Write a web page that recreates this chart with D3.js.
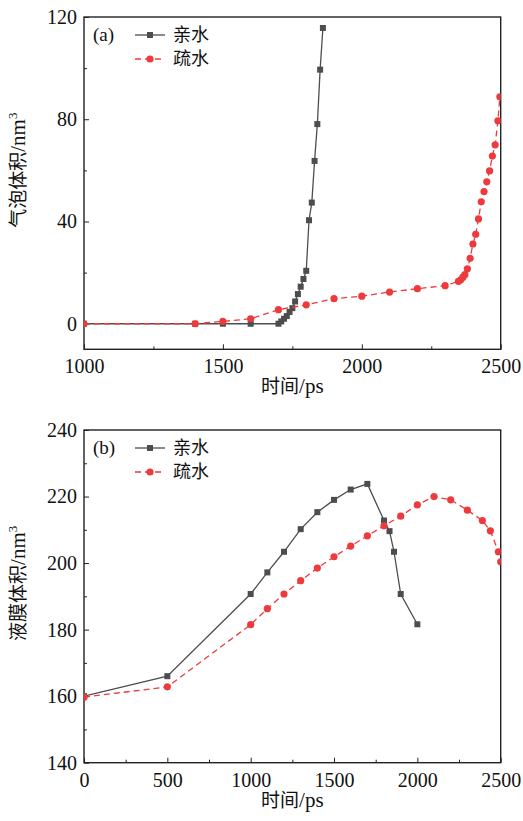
<!DOCTYPE html>
<html><head><meta charset="utf-8">
<script src="https://cdn.jsdelivr.net/npm/d3@7"></script>
<style>body{margin:0;background:#fff}</style>
</head><body>
<svg id="chart" width="523" height="821"></svg>
<script>
// (a) bubble volume vs time
const bubbleTimeHydrophilic = [1000,1400,1500,1600,1700,1710,1720,1730,1740,1750,1760,1770,1780,1790,1800,1810,1820,1830,1840,1850,1860];
const bubbleVolHydrophilic  = [0,0,0,0,0,0.9,1.95,3.0,4.6,6.1,8.7,11.6,14.5,17.5,20.7,40.5,47.4,63.7,78.1,99.4,115.7];
const bubbleTimeHydrophobic = [1000,1400,1500,1600,1700,1800,1900,2000,2100,2200,2300,2348,2356,2364,2371,2380,2390,2400,2410,2420,2430,2440,2450,2460,2470,2480,2490,2497];
const bubbleVolHydrophobic  = [0,0,0.9,1.95,5.5,7.4,9.8,10.8,12.4,13.7,14.9,16.6,17.2,18.2,19.2,21.5,25.6,31.2,35.0,41.0,47.7,51.7,55.5,59.8,65.6,70.0,79.4,88.8];

// (b) liquid film volume vs time
const filmTimeHydrophilic = [0,500,1000,1100,1200,1300,1400,1500,1600,1700,1800,1833,1860,1900,2000];
const filmVolHydrophilic  = [160,166,190.7,197.2,203.4,210.2,215.3,219,222.1,223.8,212.8,209.6,203.4,190.7,181.6];
const filmTimeHydrophobic = [0,500,1000,1100,1200,1300,1400,1500,1600,1700,1800,1900,2000,2100,2200,2300,2390,2438,2486,2500];
const filmVolHydrophobic  = [159.7,162.8,181.5,186.3,190.7,194.7,198.5,201.9,205.1,208.2,211.2,214.1,217.5,220.0,219.0,215.9,212.8,209.7,203.4,200.4];

const seriesNames = ["亲水", "疏水"];
const xTicksA = [1000,1500,2000,2500];
const yTicksA = [0,40,80,120];
const xTicksB = [0,500,1000,1500,2000,2500];
const yTicksB = [140,160,180,200,220,240];

const serif = "'Liberation Serif','DejaVu Serif',serif";
const cjk = "'Noto Sans CJK SC','Noto Sans CJK JP',sans-serif";
const darkColor = "#4d4d4d";
const redColor = "#ee3a3d";

const svg = d3.select("#chart");

function panel(cfg) {
  const {top, bottom, left, right, xDomain, yDomain, xTicks, yTicks, xMinorStep, yMinorStep,
         s1, s2, tag, ylabel, clipId} = cfg;
  const x = d3.scaleLinear().domain(xDomain).range([left, right]);
  const y = d3.scaleLinear().domain(yDomain).range([bottom, top]);
  const g = svg.append("g");

  g.append("clipPath").attr("id", clipId).append("rect")
    .attr("x", left).attr("y", top).attr("width", right - left).attr("height", bottom - top);

  // minor ticks
  const xMinor = d3.range(xDomain[0], xDomain[1] + 1e-9, xMinorStep).filter(v => !xTicks.includes(v));
  const yMinor = d3.range(Math.ceil(yDomain[0] / yMinorStep) * yMinorStep, yDomain[1] + 1e-9, yMinorStep).filter(v => !yTicks.includes(v));

  const fmt = d3.format("d");
  const xAxis = d3.axisBottom(x).tickValues(xTicks).tickFormat(fmt).tickSizeInner(-5).tickSizeOuter(0).tickPadding(10);
  const yAxis = d3.axisLeft(y).tickValues(yTicks).tickFormat(fmt).tickSizeInner(-5).tickSizeOuter(0).tickPadding(7);
  const xAxisMinor = d3.axisBottom(x).tickValues(xMinor).tickSizeInner(-3).tickSizeOuter(0).tickFormat("");
  const yAxisMinor = d3.axisLeft(y).tickValues(yMinor).tickSizeInner(-3).tickSizeOuter(0).tickFormat("");

  [[xAxis, "x"], [xAxisMinor, "x"], [yAxis, "y"], [yAxisMinor, "y"]].forEach(([ax, k]) => {
    const a = g.append("g")
      .attr("transform", k === "x" ? `translate(0,${bottom})` : `translate(${left},0)`)
      .call(ax);
    a.attr("font-family", serif).attr("font-size", 20);
    a.select(".domain").remove();
    a.selectAll(".tick line").attr("stroke", "#222").attr("stroke-width", 1);
    a.selectAll(".tick text").attr("font-family", serif).attr("font-size", 20).attr("fill", "#111");
  });

  // frame
  g.append("rect").attr("x", left).attr("y", top).attr("width", right - left).attr("height", bottom - top)
    .attr("fill", "none").attr("stroke", "#222").attr("stroke-width", 1.4);

  const line = d3.line().x(d => x(d[0])).y(d => y(d[1]));
  const plot = g.append("g").attr("clip-path", `url(#${clipId})`);

  const d1 = s1.t.map((t, i) => [t, s1.v[i]]);
  const d2 = s2.t.map((t, i) => [t, s2.v[i]]);

  plot.append("path").datum(d1).attr("d", line).attr("fill", "none")
    .attr("stroke", darkColor).attr("stroke-width", 1.3);
  plot.selectAll(".sq").data(d1).join("rect")
    .attr("x", d => x(d[0]) - 3).attr("y", d => y(d[1]) - 3)
    .attr("width", 6).attr("height", 6).attr("fill", darkColor);

  plot.append("path").datum(d2).attr("d", line).attr("fill", "none")
    .attr("stroke", redColor).attr("stroke-width", 1.3).attr("stroke-dasharray", "6,4");
  plot.selectAll(".ci").data(d2).join("circle")
    .attr("cx", d => x(d[0])).attr("cy", d => y(d[1])).attr("r", 3.6).attr("fill", redColor);

  // legend
  const lx = left + 51, ly = top + 18;
  g.append("text").attr("x", left + 9).attr("y", ly + 6).attr("font-family", serif).attr("font-size", 19)
    .attr("fill", "#111").text(tag);
  [[darkColor, null, "sq"], [redColor, "6,4", "ci"]].forEach(([c, dash, m], i) => {
    const yy = ly + i * 24;
    g.append("line").attr("x1", lx).attr("x2", lx + 30).attr("y1", yy).attr("y2", yy)
      .attr("stroke", c).attr("stroke-width", 1.3).attr("stroke-dasharray", dash);
    if (m === "sq") g.append("rect").attr("x", lx + 12).attr("y", yy - 3).attr("width", 6).attr("height", 6).attr("fill", c);
    else g.append("circle").attr("cx", lx + 15).attr("cy", yy).attr("r", 3.6).attr("fill", c);
    g.append("text").attr("x", lx + 38).attr("y", yy + 6).attr("font-family", cjk).attr("font-size", 18)
      .attr("fill", "#111").text(seriesNames[i]);
  });

  // axis titles
  const xt = g.append("text").attr("x", (left + right) / 2).attr("y", bottom + 44)
    .attr("text-anchor", "middle").attr("fill", "#111");
  xt.append("tspan").attr("font-family", cjk).attr("font-size", 19).text("时间");
  xt.append("tspan").attr("font-family", serif).attr("font-size", 21).text("/ps");

  const yt = g.append("text").attr("transform", `translate(25,${(top + bottom) / 2 - 13}) rotate(-90)`)
    .attr("text-anchor", "middle").attr("fill", "#111");
  yt.append("tspan").attr("font-family", cjk).attr("font-size", 19).text(ylabel);
  yt.append("tspan").attr("font-family", serif).attr("font-size", 21).text("/nm");
  yt.append("tspan").attr("font-family", serif).attr("font-size", 13).attr("dy", -8).text("3");
}

panel({
  top: 17, bottom: 349.3, left: 84, right: 500.7,
  xDomain: [1000, 2500], yDomain: [-10, 120], xTicks: xTicksA, yTicks: yTicksA,
  xMinorStep: 250, yMinorStep: 20,
  s1: {t: bubbleTimeHydrophilic, v: bubbleVolHydrophilic},
  s2: {t: bubbleTimeHydrophobic, v: bubbleVolHydrophobic},
  tag: "(a)", ylabel: "气泡体积", clipId: "clipA"
});
panel({
  top: 430, bottom: 762.7, left: 84, right: 500.7,
  xDomain: [0, 2500], yDomain: [140, 240], xTicks: xTicksB, yTicks: yTicksB,
  xMinorStep: 250, yMinorStep: 10,
  s1: {t: filmTimeHydrophilic, v: filmVolHydrophilic},
  s2: {t: filmTimeHydrophobic, v: filmVolHydrophobic},
  tag: "(b)", ylabel: "液膜体积", clipId: "clipB"
});
</script>
</body></html>
